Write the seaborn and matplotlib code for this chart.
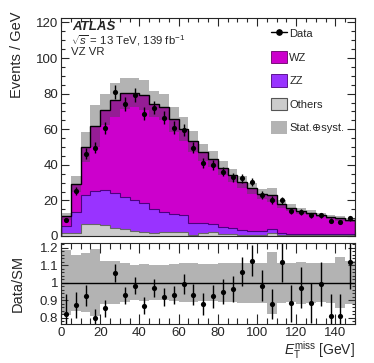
import numpy as np
import pandas as pd
import matplotlib
matplotlib.use("Agg")
import matplotlib.pyplot as plt
import seaborn as sns
from matplotlib.lines import Line2D
from matplotlib.patches import Patch
from matplotlib.ticker import MultipleLocator

# ---------------- data ----------------
bin_edges = list(range(0, 155, 5))
others = [1.8, 1.8, 6.7, 6.7, 6.2, 4.3, 3.7, 3.0, 2.4, 1.9, 2.2, 2.2, 2.4, 0.3, 1.5,
          2.2, 0.9, 0.9, 0.7, 0.5, 0.4, 1.6, 0.4, 0.3, 0.3, 0.3, 0.3, 0.3, 0.5, 0.3]
zz = [4.0, 11.9, 16.3, 18.6, 19.6, 20.0, 18.4, 17.5, 15.9, 13.5, 11.5, 10.2, 9.4, 6.8, 5.6,
      4.4, 4.2, 3.4, 2.8, 2.5, 2.4, 2.2, 1.2, 1.1, 1.0, 0.9, 0.9, 0.8, 0.5, 0.6]
wz = [5.2, 15.5, 26.9, 36.7, 45.2, 52.3, 58.1, 60.0, 60.9, 58.9, 58.7, 53.2, 48.3, 46.2, 39.9,
      36.7, 33.1, 29.8, 27.0, 23.9, 20.8, 19.2, 16.4, 14.6, 12.7, 11.9, 10.5, 9.5, 8.9, 8.0]
data = [9.0, 25.5, 46.2, 49.6, 60.6, 80.8, 74.3, 79.1, 68.8, 72.1, 66.5, 60.9, 59.7, 49.6, 41.2,
        39.9, 36.2, 32.9, 32.4, 30.3, 23.2, 20.2, 20.1, 14.1, 13.6, 11.6, 11.6, 8.6, 8.0, 9.95]
data_err = [1.3, 2.2, 3.0, 3.2, 3.4, 4.0, 3.8, 3.9, 3.7, 3.8, 3.6, 3.5, 3.45, 3.15, 2.9,
            2.8, 2.7, 2.55, 2.55, 2.45, 2.15, 2.0, 2.0, 1.7, 1.65, 1.5, 1.5, 1.3, 1.25, 1.4]
unc_rel = [0.185, 0.16, 0.17, 0.19, 0.125, 0.125, 0.11, 0.10, 0.105, 0.10, 0.10, 0.105, 0.11, 0.11, 0.105,
           0.105, 0.11, 0.11, 0.114, 0.114, 0.114, 0.177, 0.114, 0.11, 0.12, 0.114, 0.11, 0.114, 0.147, 0.124]
procs = ["WZ", "ZZ", "Others"]
colors = {"WZ": "#cc00cc", "ZZ": "#9933ff", "Others": "#cccccc"}

# ---------------- styling ----------------
sns.set_style("ticks")
plt.rcParams["font.family"] = ["Liberation Sans", "DejaVu Sans"]
plt.rcParams["mathtext.fontset"] = "custom"
plt.rcParams["mathtext.rm"] = "Liberation Sans"
plt.rcParams["mathtext.it"] = "Liberation Sans:italic"
plt.rcParams["mathtext.bf"] = "Liberation Sans:bold"
plt.rcParams["axes.linewidth"] = 0.8

edges = np.array(bin_edges, dtype=float)
centers = 0.5 * (edges[:-1] + edges[1:])
n = len(centers)
a_oth, a_zz, a_wz = np.array(others), np.array(zz), np.array(wz)
total = a_oth + a_zz + a_wz
rel = np.array(unc_rel)
d = np.array(data)
de = np.array(data_err)

df = pd.DataFrame({
    "met": np.concatenate([centers] * 3),
    "w": np.concatenate([a_wz, a_zz, a_oth]),
    "proc": np.repeat(procs, n),
})

fig = plt.figure(figsize=(3.74, 3.63), dpi=100)
ax = fig.add_axes([61 / 374, 1 - 236 / 363, 294 / 374, 218 / 363])
ax2 = fig.add_axes([61 / 374, 1 - 324 / 363, 294 / 374, 81 / 363])

band_col = (0.28, 0.28, 0.28)
band_alpha = 0.41

# stacked histogram
sns.histplot(data=df, x="met", weights="w", hue="proc", hue_order=procs,
             multiple="stack", bins=bin_edges, element="step", fill=True,
             palette=colors, alpha=1, linewidth=0, legend=False, ax=ax)
ax.stairs(a_oth, edges, color="#666666", lw=0.8)
ax.stairs(a_oth + a_zz, edges, color="#4d0080", lw=0.8)
# uncertainty band
ax.stairs(total * (1 + rel), edges, baseline=total * (1 - rel), fill=True,
          color=band_col, alpha=band_alpha, lw=0)
ax.stairs(total, edges, color="black", lw=1.0)
# data
ax.errorbar(centers, d, yerr=de, fmt="none", ecolor="black", elinewidth=1.0)
sns.scatterplot(x=centers, y=d, color="black", s=14, edgecolor="black", linewidth=0, ax=ax, zorder=5)

ax.set_xlim(0, 150)
ax.set_ylim(0, 122.5)
ax.set_xlabel("")
ax.set_ylabel("Events / GeV", fontsize=10.5, loc="top")
ax.yaxis.set_label_coords(-0.125, 1.03)
ax.xaxis.set_major_locator(MultipleLocator(20))
ax.xaxis.set_minor_locator(MultipleLocator(5))
ax.yaxis.set_major_locator(MultipleLocator(20))
ax.yaxis.set_minor_locator(MultipleLocator(5))
ax.tick_params(which="both", direction="in", top=True, right=True, width=0.8, labelsize=9.5, pad=2)
ax.tick_params(which="major", length=5.5)
ax.tick_params(which="minor", length=2.8)
ax.tick_params(axis="x", labelbottom=False)

# texts
ax.text(0.037, 0.959, "ATLAS", transform=ax.transAxes, fontsize=9.5,
        fontweight="bold", fontstyle="italic", va="center", ha="left")
ax.text(0.034, 0.897, r"$\sqrt{s}$ = 13 TeV, 139 fb$^{-1}$", transform=ax.transAxes,
        fontsize=8.2, va="center", ha="left")
ax.text(0.034, 0.842, "VZ VR", transform=ax.transAxes, fontsize=8.2, va="center", ha="left")

# legend
handles = [
    Line2D([0], [0], color="black", marker="o", markersize=3.8, lw=1.0),
    Patch(facecolor=colors["WZ"], edgecolor="#660066", lw=0.6),
    Patch(facecolor=colors["ZZ"], edgecolor="#4d0080", lw=0.6),
    Patch(facecolor=colors["Others"], edgecolor="#555555", lw=0.8),
    Patch(facecolor=(0.70, 0.70, 0.70), edgecolor="none"),
]
labels = ["Data", "WZ", "ZZ", "Others", "Stat.\u2295syst."]
leg = ax.legend(handles, labels, loc="upper left", bbox_to_anchor=(271 / 374, 1 - 27 / 363),
                bbox_transform=fig.transFigure, frameon=False, fontsize=8,
                handlelength=1.45, handleheight=1.35, handletextpad=0.2,
                labelspacing=1.0, borderpad=0, borderaxespad=0)

# ratio panel
ax2.stairs(1 + rel, edges, baseline=1 - rel, fill=True, color=band_col, alpha=band_alpha, lw=0)
ax2.axhline(1.0, color="black", lw=1.0)
ratio = d / total
ratio_err = de / total
ax2.errorbar(centers, ratio, yerr=ratio_err, fmt="none", ecolor="black", elinewidth=1.0)
sns.scatterplot(x=centers, y=ratio, color="black", s=14, edgecolor="black", linewidth=0, ax=ax2, zorder=5)
ax2.set_xlim(0, 150)
ax2.set_ylim(0.763, 1.227)
ax2.xaxis.set_major_locator(MultipleLocator(20))
ax2.xaxis.set_minor_locator(MultipleLocator(5))
ax2.yaxis.set_major_locator(MultipleLocator(0.1))
ax2.yaxis.set_minor_locator(MultipleLocator(0.02))
ax2.set_yticks([0.8, 0.9, 1.0, 1.1, 1.2])
ax2.set_yticklabels(["0.8", "0.9", "1", "1.1", "1.2"])
ax2.tick_params(which="both", direction="in", top=True, right=True, width=0.8, labelsize=9.5, pad=2)
ax2.tick_params(axis="x", which="major", length=7)
ax2.tick_params(axis="x", which="minor", length=4)
ax2.tick_params(axis="y", which="major", length=5)
ax2.tick_params(axis="y", which="minor", length=2.5)
ax2.set_ylabel("Data/SM", fontsize=10.5)
ax2.yaxis.set_label_coords(-0.125, 0.5)
ax2.set_xlabel(r"$E_{\mathrm{T}}^{\mathrm{miss}}$ [GeV]", fontsize=10, loc="right", labelpad=0.5)

fig.savefig("out.png", dpi=100)
